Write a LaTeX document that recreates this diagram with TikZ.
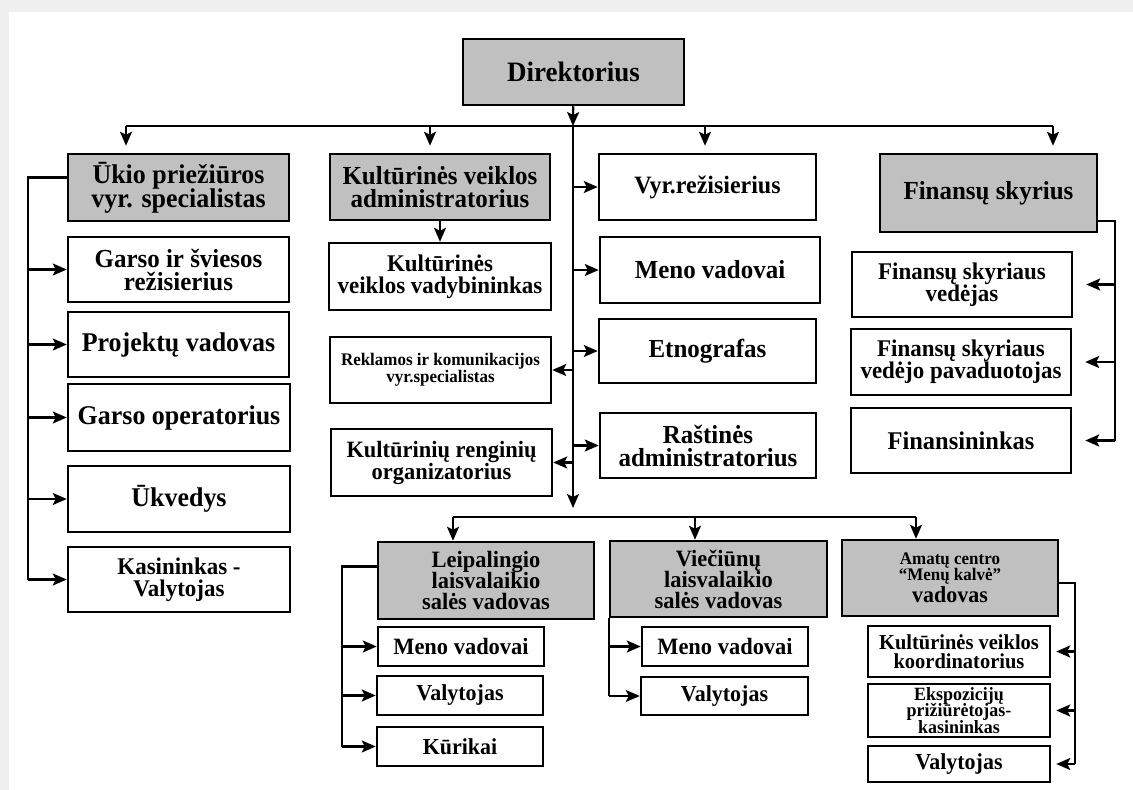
\documentclass[tikz,border=0pt]{standalone}
\usepackage{fontspec}
\setmainfont{Liberation Serif}[FakeStretch=0.96]
\usetikzlibrary{arrows.meta}
\definecolor{boxgray}{RGB}{192,192,192}
\definecolor{framegray}{RGB}{240,240,240}
\newcommand{\fsize}[2]{\bfseries\fontsize{\dimexpr#1pt*104/100\relax}{#2}\selectfont\lineskiplimit=-\maxdimen}

\begin{document}
\begin{tikzpicture}[x=1pt, y=-1pt,
    box/.style={draw, line width=2.5pt, inner sep=0pt, align=center, font=\fsize{25}{22}},
    head/.style={box, fill=boxgray},
    dims/.style 2 args={minimum width=#1pt, minimum height=#2pt},
    wire/.style={line width=2.2pt},
    link/.style={wire, -{Stealth[length=14pt, width=12pt, inset=3pt]}}]
  \fill[framegray] (0,0) rectangle (1133,790);
  \fill[white] (9,12) rectangle (1133,790);
  \useasboundingbox (0,0) rectangle (1133,790);

  % top level
  \node[head, dims={221}{66}, font=\fsize{27}{24}] (dir) at (573.5,72) {Direktorius};
  \node[head, dims={221}{67}, font=\fsize{26}{24}] (ukio) at (178.5,187.5) {Ūkio priežiūros\\vyr. specialistas};
  \node[head, dims={220}{66}, font=\fsize{25}{23}] (kadm) at (440,187) {Kultūrinės veiklos\\administratorius};
  \node[box, dims={217}{66}, font=\fsize{24}{22}] (vyr) at (707.5,187) {Vyr.režisierius};
  \node[head, dims={217}{78}] (fin) at (988.5,193) {Finansų skyrius};

  % left column
  \node[box, dims={221}{65}, font=\fsize{25}{23}] (garso) at (178.5,269.5) {Garso ir šviesos\\režisierius};
  \node[box, dims={221}{65}, font=\fsize{26}{23}] (proj) at (178.5,344.5) {Projektų vadovas};
  \node[box, dims={222}{67}, font=\fsize{26}{23}] (gop) at (179,417.5) {Garso operatorius};
  \node[box, dims={222}{66}, font=\fsize{26}{23}] (ukv) at (179,499) {Ūkvedys};
  \node[box, dims={222}{65}, font=\fsize{23}{22}] (kas) at (179,579.5) {Kasininkas -\\Valytojas};

  % middle column
  \node[box, dims={222}{67}, font=\fsize{23}{22}] (kvad) at (440,276.5) {Kultūrinės\\veiklos vadybininkas};
  \node[box, dims={221}{66}, font=\fsize{17}{17}] (rekl) at (440.5,370) {Reklamos ir komunikacijos\\vyr.specialistas};
  \node[box, dims={221}{67}, font=\fsize{22.5}{22}] (kren) at (441.5,462.5) {Kultūrinių renginių\\organizatorius};
  \node[box, dims={220}{66}] (meno) at (710,270) {Meno vadovai};
  \node[box, dims={217}{64}] (etno) at (707.5,351) {Etnografas};
  \node[box, dims={216}{65}, font=\fsize{25}{23}] (rast) at (708,445.5) {Raštinės\\administratorius};

  % finance column
  \node[box, dims={220}{65}, font=\fsize{23}{22}] (fved) at (962,284.5) {Finansų skyriaus\\vedėjas};
  \node[box, dims={220}{66}, font=\fsize{23}{22}] (fpav) at (961,362) {Finansų skyriaus\\vedėjo pavaduotojas};
  \node[box, dims={220}{65}, font=\fsize{24.5}{22}] (fnin) at (961,440.5) {Finansininkas};

  % bottom level
  \node[head, dims={216}{77}, font=\fsize{22.5}{21}] (leip) at (486,580.5) {Leipalingio\\laisvalaikio\\salės vadovas};
  \node[head, dims={217}{76}, font=\fsize{22.5}{21}] (viec) at (718.5,579) {Viečiūnų\\laisvalaikio\\salės vadovas};
  \node[head, dims={216}{76}, font=\fsize{17}{16}] (amat) at (950,578) {Amatų centro\\“Menų kalvė”\\[6pt]{\fsize{22}{20}vadovas}};
  \node[box, dims={166}{39}, font=\fsize{22.5}{20}] (lmeno) at (461,646.5) {Meno vadovai};
  \node[box, dims={166}{39}, font=\fsize{22}{20}] (lval) at (460,695.5) {Valytojas};
  \node[box, dims={166}{39}, font=\fsize{22}{20}] (lkur) at (460,746.5) {Kūrikai};
  \node[box, dims={166}{39}, font=\fsize{22.5}{20}] (vmeno) at (725,646.5) {Meno vadovai};
  \node[box, dims={167}{38}, font=\fsize{22}{20}] (vval) at (724.5,696) {Valytojas};
  \node[box, dims={182}{51}, font=\fsize{20.5}{18.5}] (akul) at (959,651.5) {Kultūrinės veiklos\\koordinatorius};
  \node[box, dims={182}{53}, font=\fsize{18}{16.5}] (aeks) at (959,710.5) {Ekspozicijų\\prižiūrėtojas-\\kasininkas};
  \node[box, dims={182}{36}, font=\fsize{22}{20}] (aval) at (959,764) {Valytojas};

  % main lines
  \coordinate (tl) at (126,126);
  \coordinate (tr) at (1053,126);
  \coordinate (tj) at (573,126);
  \coordinate (te) at (573,508);
  \coordinate (bl) at (453,517);
  \coordinate (br) at (916,517);
  \draw[wire] (tl) -- (tr);
  \draw[link] (dir) -- (tj);
  \foreach \x/\n in {126/ukio, 430/kadm, 705/vyr, 1053/fin}
    \draw[link, shorten >=7pt] (\x,126) -- (\x,0 |- \n.north);
  \draw[link] (tj) -- (te);
  \foreach \n in {vyr, meno, etno, rast, rekl, kren}
    \draw[link] (tj |- \n) -- (\n);
  \draw[link] (kadm) -- (kvad);
  \draw[wire] (bl) -- (br);
  \foreach \x/\n in {453/leip, 695/viec, 916/amat}
    \draw[link] (\x,517) -- (\x,0 |- \n.north);

  % branches
  \coordinate (lb) at (28,0 |- kas);
  \draw[wire] ([yshift=10pt]ukio.west) -| (lb);
  \foreach \n in {garso, proj, gop, ukv, kas}
    \draw[link] (lb |- \n) -- (\n);

  \coordinate (fb) at (1115,0 |- fnin);
  \draw[wire] ([yshift=12pt]fin.south east) -| (fb);
  \foreach \n in {fved, fpav, fnin}
    \draw[link, shorten >=13pt] (fb |- \n) -- (\n);

  \coordinate (lpb) at (342,0 |- lkur);
  \draw[wire] ([yshift=14pt]leip.west) -| (lpb);
  \foreach \n in {lmeno, lval, lkur}
    \draw[link] (lpb |- \n) -- (\n);

  \coordinate (vb) at (viec.south west |- vval);
  \draw[wire] (viec.south west) -- (vb);
  \foreach \n in {vmeno, vval}
    \draw[link] (vb |- \n) -- (\n);

  \coordinate (ab) at (1075,0 |- aval);
  \draw[wire] ([yshift=-5pt]amat.east) -| (ab);
  \foreach \n in {akul, aeks, aval}
    \draw[link, shorten >=5pt] (ab |- \n) -- (\n);
\end{tikzpicture}
\end{document}
